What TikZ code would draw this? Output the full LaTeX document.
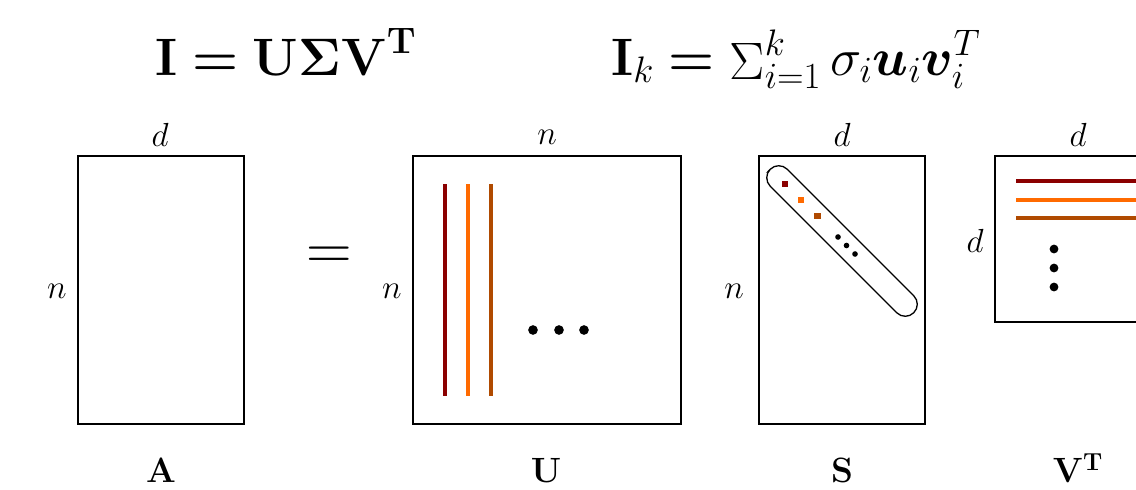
\RequirePackage{fix-cm}
\documentclass[tikz,border=0pt]{standalone}
\usepackage{amsmath,amssymb,bm}
\usepackage{tikz}
\usetikzlibrary{positioning,shapes}
\usepackage{xcolor}
\definecolor{svdred}{HTML}{8B0000}
\definecolor{svdorange}{HTML}{FF6A00}
\definecolor{svdbrown}{HTML}{B04A00}

\begin{document}
\begin{tikzpicture}[
  x=0.02cm, y=-0.02cm,
  mat/.style={draw, line width=0.75pt, inner sep=0pt},
  dimlabel/.style={font=\fontsize{19}{22}\selectfont, inner sep=0pt},
  matname/.style={font=\fontsize{20}{24}\selectfont\bfseries, inner sep=0pt},
  headline/.style={font=\fontsize{30}{36}\selectfont, inner sep=0pt, anchor=base},
  vec/.style={line width=2.1pt},
  dot/.style={circle, fill=black, inner sep=0pt, minimum size=5.5pt},
]
  \useasboundingbox (0,0) rectangle (1136,490);

  % Titles
  \node[headline] (svd) at (286,75) {$\boldsymbol{\mathbf{I} = \mathbf{U}\Sigma\mathbf{V}^{\mathbf{T}}}$};
  \node[headline] (lowrank) at (796,75) {$\mathbf{I}_{k} \boldsymbol{=} \mathop{\Sigma}\nolimits_{i=1}^{k} \sigma_i \boldsymbol{u}_i \boldsymbol{v}_i^{T}$};

  % Matrices
  \node[mat, minimum width=3.32cm, minimum height=5.36cm] (A) at (161,290) {};
  \node[mat, minimum width=5.36cm, minimum height=5.36cm] (U) at (547,290) {};
  \node[mat, minimum width=3.32cm, minimum height=5.36cm] (S) at (842,290) {};
  \node[mat, minimum width=3.32cm, minimum height=3.32cm] (VT) at (1078,239) {};

  % Dimensions
  \node[dimlabel] (Atop) at (160,135) {$d$};
  \node[dimlabel] (Aside) at (57,291) {$n$};
  \node[dimlabel] (Utop) at (547,137) {$n$};
  \node[dimlabel] (Uside) at (392,291) {$n$};
  \node[dimlabel] (Stop) at (842,135) {$d$};
  \node[dimlabel] (Sside) at (734,291) {$n$};
  \node[dimlabel] (VTtop) at (1078,135) {$d$};
  \node[dimlabel] (VTside) at (975,241) {$d$};

  % Names
  \node[matname] (Aname) at (161,470) {$\mathbf{A}$};
  \node[matname] (Uname) at (546,470) {$\mathbf{U}$};
  \node[matname] (Sname) at (842,470) {$\mathbf{S}$};
  \node[matname] (VTname) at (1078,468) {$\mathbf{V}^{\mathbf{T}}$};

  \node[font=\fontsize{36}{40}\selectfont, inner sep=0pt] (eq) at (329,258) {$=$};

  % U columns
  \draw[vec, svdred] (445,184) -- (445,396);
  \draw[vec, svdorange] (468,184) -- (468,396);
  \draw[vec, svdbrown] (491,184) -- (491,396);
  \foreach \x in {533,559,584}
    \node[dot] at (\x,330) {};

  % S diagonal
  \node[draw, line width=0.75pt, rotate=-45, minimum width=4.06cm, minimum height=0.48cm,
        rounded corners=0.24cm, inner sep=0pt] (diag) at (842,241) {};
  \fill[svdred] (782,181) rectangle (788,187);
  \fill[svdorange] (798,197) rectangle (804,203);
  \fill[svdbrown] (814,213) rectangle (821,219);
  \foreach \t in {0,1,2}
    \node[dot, minimum size=3.2pt] at (838+8.5*\t,237+8.5*\t) {};

  % V^T rows
  \draw[vec, svdred] (1016,181) -- (1140,181);
  \draw[vec, svdorange] (1016,200) -- (1140,200);
  \draw[vec, svdbrown] (1016,218) -- (1140,218);
  \foreach \y in {249,268,287}
    \node[dot, minimum size=5pt] at (1054,\y) {};
\end{tikzpicture}
\end{document}
